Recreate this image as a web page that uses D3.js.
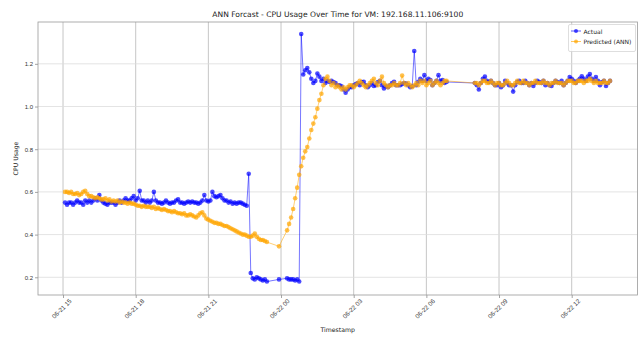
<!DOCTYPE html>
<html><head><meta charset="utf-8">
<script src="https://cdn.jsdelivr.net/npm/d3@7/dist/d3.min.js"></script>
<style>
html,body{margin:0;padding:0;background:#fff;}
svg{display:block;font-family:"DejaVu Sans",sans-serif;}
</style></head>
<body>
<svg id="chart" width="639" height="337"></svg>
<script>
// ---- data (5-minute samples) ----
const segmentStarts = ["2024-06-21 15:05", "2024-06-21 22:45", "2024-06-21 23:55", "2024-06-22 00:15", "2024-06-22 08:00"];
const stepMinutes = 5;

const actualSeg1 = [0.55,0.54,0.55,0.55,0.54,0.55,0.56,0.55,0.55,0.54,0.56,0.55,
 0.56,0.55,0.56,0.57,0.56,0.585,0.56,0.55,0.545,0.54,0.55,0.55,
 0.55,0.54,0.55,0.56,0.55,0.56,0.57,0.56,0.56,0.57,0.58,0.56,
 0.57,0.605,0.56,0.56,0.55,0.56,0.55,0.56,0.60,0.56,0.55,0.55,
 0.545,0.55,0.56,0.55,0.545,0.55,0.55,0.56,0.565,0.55,0.55,0.545,
 0.55,0.555,0.55,0.555,0.55,0.55,0.545,0.55,0.56,0.585,0.56,0.555,
 0.56,0.60,0.58,0.575,0.58,0.585,0.57,0.56,0.56,0.55,0.555,0.545,
 0.55,0.545,0.55,0.55,0.545,0.54,0.535,0.685];
const predSeg1 = [0.60,0.60,0.595,0.60,0.59,0.59,0.595,0.585,0.59,0.60,0.605,0.59,
 0.58,0.58,0.575,0.57,0.575,0.57,0.565,0.565,0.57,0.56,0.565,0.555,
 0.56,0.555,0.56,0.55,0.555,0.55,0.55,0.545,0.55,0.545,0.545,0.54,
 0.535,0.535,0.53,0.535,0.53,0.53,0.53,0.525,0.53,0.52,0.525,0.52,
 0.515,0.52,0.515,0.51,0.51,0.505,0.51,0.505,0.50,0.50,0.495,0.50,
 0.49,0.49,0.495,0.49,0.485,0.48,0.49,0.50,0.505,0.49,0.475,0.47,
 0.465,0.46,0.455,0.455,0.45,0.45,0.445,0.44,0.44,0.435,0.43,0.425,
 0.42,0.415,0.41,0.405,0.40,0.40,0.395,0.39];

const actualSeg2 = [0.22,0.195,0.19,0.20,0.195,0.19,0.185,0.19,0.18];
const predSeg2   = [0.39,0.395,0.405,0.39,0.38,0.375,0.375,0.37,0.365];

const actualSeg3 = [0.19];
const predSeg3   = [0.345];

const actualSeg4 = [0.195,0.19,0.19,0.19,0.185,0.19,0.18,
 1.34,1.15,1.17,1.18,1.16,1.13,1.11,1.12,1.155,1.14,1.12,1.13,
 1.11,1.12,1.115,1.12,1.115,1.11,1.10,1.10,1.095,1.08,1.065,1.08,
 1.09,1.09,1.10,1.105,1.11,1.10,1.115,1.116,1.10,1.09,1.10,1.11,
 1.096,1.10,1.115,1.12,1.10,1.085,1.095,1.09,1.10,1.11,1.116,1.10,
 1.10,1.10,1.105,1.11,1.108,1.10,1.09,1.095,1.26,1.10,1.116,1.13,
 1.12,1.147,1.12,1.13,1.124,1.10,1.11,1.12,1.147,1.12,1.124,1.11,
 1.115];
const predSeg4 = [0.42,0.45,0.48,0.52,0.57,0.62,0.68,
 0.72,0.76,0.79,0.81,0.85,0.89,0.92,0.95,0.99,1.03,1.06,1.10,
 1.13,1.14,1.12,1.10,1.11,1.09,1.10,1.09,1.08,1.09,1.08,1.09,
 1.10,1.10,1.09,1.10,1.11,1.12,1.11,1.10,1.09,1.10,1.11,1.12,
 1.13,1.11,1.10,1.12,1.14,1.11,1.10,1.09,1.10,1.10,1.11,1.10,
 1.10,1.11,1.145,1.11,1.10,1.11,1.10,1.09,1.10,1.11,1.10,1.12,
 1.11,1.12,1.10,1.11,1.12,1.10,1.11,1.12,1.11,1.10,1.11,1.12,
 1.12];

const actualSeg5 = [1.11,1.10,1.08,1.11,1.13,1.14,1.12,1.115,1.12,1.11,1.10,1.10,
 1.11,1.09,1.10,1.12,1.11,1.10,1.10,1.07,1.10,1.115,1.12,1.11,
 1.11,1.12,1.11,1.10,1.11,1.096,1.11,1.12,1.115,1.11,1.12,1.10,
 1.11,1.10,1.096,1.11,1.12,1.115,1.11,1.12,1.10,1.11,1.12,1.138,
 1.13,1.12,1.11,1.12,1.13,1.142,1.13,1.12,1.14,1.152,1.13,1.12,
 1.138,1.12,1.10,1.115,1.12,1.096,1.11,1.12];
const predSeg5 = [1.11,1.11,1.10,1.11,1.12,1.12,1.11,1.11,1.12,1.11,1.10,1.11,
 1.11,1.10,1.10,1.11,1.12,1.11,1.10,1.10,1.11,1.12,1.11,1.11,
 1.12,1.11,1.11,1.10,1.11,1.11,1.12,1.11,1.11,1.11,1.12,1.11,
 1.11,1.10,1.11,1.11,1.12,1.11,1.11,1.11,1.10,1.11,1.12,1.12,
 1.12,1.11,1.11,1.12,1.12,1.12,1.11,1.12,1.12,1.13,1.12,1.11,
 1.12,1.11,1.11,1.11,1.12,1.11,1.11,1.12];

const actualSegments = [actualSeg1, actualSeg2, actualSeg3, actualSeg4, actualSeg5];
const predSegments   = [predSeg1, predSeg2, predSeg3, predSeg4, predSeg5];

const xDomain = ["2024-06-21 13:58", "2024-06-22 14:43"];
const yDomain = [0.117, 1.396];
const yTicks = [0.2, 0.4, 0.6, 0.8, 1.0, 1.2];
const titleText = "ANN Forcast - CPU Usage Over Time for VM: 192.168.11.106:9100";
const seriesNames = ["Actual", "Predicted (ANN)"];
const seriesColors = ["#0000ff", "#ffa500"];

// ---- build rows ----
const parse = d3.timeParse("%Y-%m-%d %H:%M");
function buildSeries(segs) {
  const out = [];
  segs.forEach((vals, si) => {
    const t0 = parse(segmentStarts[si]);
    vals.forEach((v, i) => out.push({t: d3.timeMinute.offset(t0, i * stepMinutes), v}));
  });
  return out;
}
const actual = buildSeries(actualSegments);
const predicted = buildSeries(predSegments);

// ---- layout ----
const W = 639, H = 337;
const m = {left: 38, right: 1.5, top: 22, bottom: 42};
const svg = d3.select("#chart");
const x = d3.scaleTime().domain(xDomain.map(parse)).range([m.left, W - m.right]);
const y = d3.scaleLinear().domain(yDomain).range([H - m.bottom, m.top]);

const tickFont = 6;

// grid
const xTickVals = d3.timeHour.every(3).range(parse("2024-06-21 15:00"), parse("2024-06-22 13:00"));
svg.append("g").selectAll("line").data(xTickVals).join("line")
  .attr("x1", d => x(d)).attr("x2", d => x(d)).attr("y1", m.top).attr("y2", H - m.bottom)
  .attr("stroke", "#b8b8b8").attr("stroke-width", 0.8);
svg.append("g").selectAll("line").data(yTicks).join("line")
  .attr("x1", m.left).attr("x2", W - m.right).attr("y1", d => y(d)).attr("y2", d => y(d))
  .attr("stroke", "#dcdcdc").attr("stroke-width", 0.8);

// axes
const xAxis = d3.axisBottom(x).tickValues(xTickVals).tickFormat(d3.timeFormat("%m-%d %H")).tickSize(3).tickPadding(2);
const gx = svg.append("g").attr("transform", `translate(0,${H - m.bottom})`).call(xAxis);
gx.select(".domain").remove();
gx.selectAll(".tick line").attr("stroke", "#666").attr("stroke-width", 0.6);
gx.selectAll(".tick text")
  .attr("font-size", 6.3).attr("fill", "#333")
  .attr("text-anchor", "middle").attr("dy", null).attr("y", null)
  .attr("transform", "translate(-2,13.5) rotate(-45)")
  .attr("dominant-baseline", "central");

const yAxis = d3.axisLeft(y).tickValues(yTicks).tickFormat(d3.format(".1f")).tickSize(3).tickPadding(2);
const gy = svg.append("g").attr("transform", `translate(${m.left},0)`).call(yAxis);
gy.select(".domain").remove();
gy.selectAll(".tick line").attr("stroke", "#666").attr("stroke-width", 0.6);
gy.selectAll(".tick text").attr("font-size", tickFont).attr("fill", "#333");

// frame
svg.append("rect").attr("x", m.left).attr("y", m.top)
  .attr("width", W - m.right - m.left).attr("height", H - m.bottom - m.top)
  .attr("fill", "none").attr("stroke", "#9a9a9a").attr("stroke-width", 0.8);

// series
const line = d3.line().x(d => x(d.t)).y(d => y(d.v));
[actual, predicted].forEach((data, i) => {
  const g = svg.append("g");
  g.append("path").datum(data).attr("d", line)
    .attr("fill", "none").attr("stroke", seriesColors[i]).attr("stroke-width", 0.9).attr("stroke-opacity", 0.6);
  g.selectAll("circle").data(data).join("circle")
    .attr("cx", d => x(d.t)).attr("cy", d => y(d.v)).attr("r", 2.3)
    .attr("fill", seriesColors[i]).attr("fill-opacity", 0.7);
});

// title
const title = svg.append("text").attr("x", (m.left + W - m.right) / 2).attr("y", 17)
  .attr("text-anchor", "middle").attr("font-size", 10).attr("fill", "#222").text(titleText);
const tl = title.node().getComputedTextLength();
title.attr("font-size", 10 * 251 / tl);

// axis labels
svg.append("text").attr("x", (m.left + W - m.right) / 2).attr("y", 332)
  .attr("text-anchor", "middle").attr("font-size", 6.2).attr("fill", "#222").text("Timestamp");
svg.append("text").attr("transform", `translate(18,${(m.top + H - m.bottom) / 2}) rotate(-90)`)
  .attr("text-anchor", "middle").attr("font-size", 6.2).attr("fill", "#222").text("CPU Usage");

// legend
const lg = svg.append("g");
lg.append("rect").attr("x", 568.5).attr("y", 24.5).attr("width", 67).attr("height", 27)
  .attr("rx", 1.5).attr("fill", "#fff").attr("fill-opacity", 0.85).attr("stroke", "#d0d0d0").attr("stroke-width", 0.7);
seriesNames.forEach((name, i) => {
  const cy = 31 + i * 10.5;
  lg.append("line").attr("x1", 571).attr("x2", 581).attr("y1", cy).attr("y2", cy)
    .attr("stroke", seriesColors[i]).attr("stroke-width", 0.9).attr("stroke-opacity", 0.7);
  lg.append("circle").attr("cx", 576).attr("cy", cy).attr("r", 2)
    .attr("fill", seriesColors[i]).attr("fill-opacity", 0.7);
  lg.append("text").attr("x", 583.5).attr("y", cy).attr("dominant-baseline", "central")
    .attr("font-size", tickFont).attr("fill", "#222").text(name);
});
</script>
</body></html>
